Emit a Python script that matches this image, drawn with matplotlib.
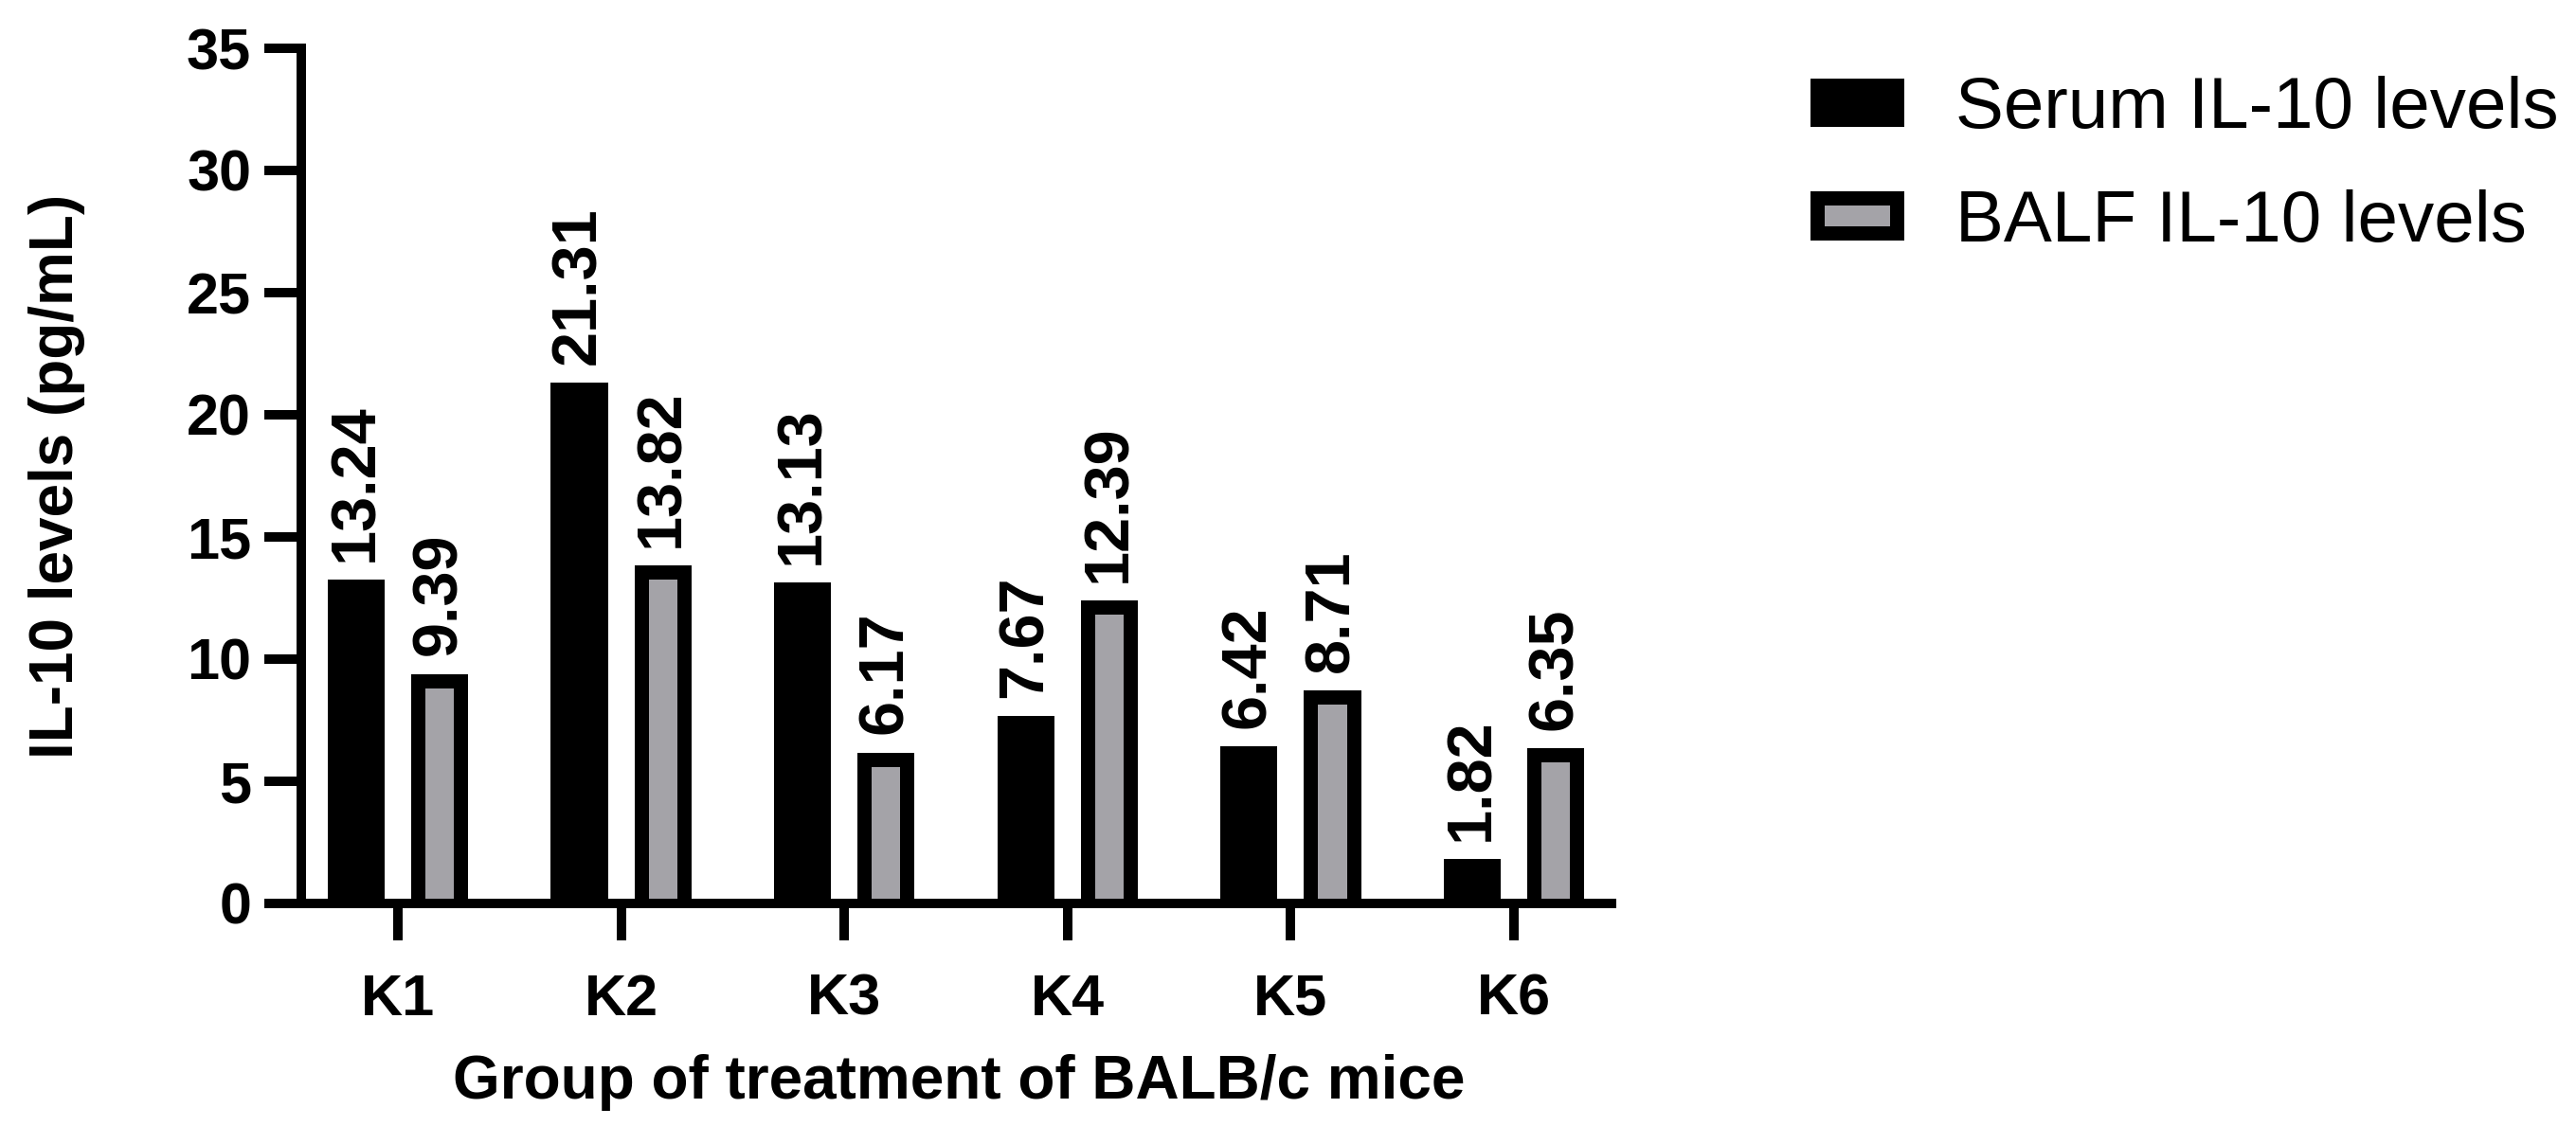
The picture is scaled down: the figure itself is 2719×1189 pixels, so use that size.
import matplotlib
matplotlib.use("Agg")
import matplotlib.pyplot as plt
import numpy as np
from matplotlib.patches import Rectangle, Patch
from matplotlib.legend_handler import HandlerBase

groups = ["K1", "K2", "K3", "K4", "K5", "K6"]
serum = [13.24, 21.31, 13.13, 7.67, 6.42, 1.82]
balf = [9.39, 13.82, 6.17, 12.39, 8.71, 6.35]
serum_labels = ["13.24", "21.31", "13.13", "7.67", "6.42", "1.82"]
balf_labels = ["9.39", "13.82", "6.17", "12.39", "8.71", "6.35"]
yticks = [0, 5, 10, 15, 20, 25, 30, 35]
series_names = ["Serum IL-10 levels", "BALF IL-10 levels"]

W, H, DPI = 2719, 1189, 100
GRAY = "#A4A3A8"
FONT = "Liberation Sans"
plt.rcParams["font.family"] = [FONT, "DejaVu Sans"]

fig = plt.figure(figsize=(W / DPI, H / DPI), dpi=DPI)
ax = fig.add_axes([279 / W, 1 - 954 / H, 1427 / W, 903 / H])

x = np.arange(len(groups))
bw = 0.255
off = 0.187
inset_px = 15
# inset of the grey fill in data units
inset_x = bw * inset_px / 60
inset_y = 35 * inset_px / 903

ax.bar(x - off, serum, bw, color="black", zorder=1)
ax.bar(x + off, balf, bw, color="black", zorder=1)
ax.bar(x + off, np.array(balf) - inset_y, bw - 2 * inset_x, color=GRAY, zorder=1.1)

for xi, v, t in zip(x - off, serum, serum_labels):
    ax.annotate(t, (xi, v), xytext=(0, 14), textcoords="offset points",
                rotation=90, ha="center", va="bottom", fontsize=48,
                fontweight="bold", family=FONT)
for xi, v, t in zip(x + off, balf, balf_labels):
    ax.annotate(t, (xi, v), xytext=(0, 14), textcoords="offset points",
                rotation=90, ha="center", va="bottom", fontsize=48,
                fontweight="bold", family=FONT)

ax.set_xlim(-0.598, 5.458)
ax.set_ylim(0, 35)
lw = 7.2
for s in ["top", "right"]:
    ax.spines[s].set_visible(False)
ax.spines["left"].set_position(("data", -0.433))
ax.spines["left"].set_bounds(0, 35)
for s in ["left", "bottom"]:
    ax.spines[s].set_linewidth(lw)
    ax.spines[s].set_capstyle("projecting")
ax.spines["bottom"].set_capstyle("butt")

ax.set_yticks(yticks)
ax.set_yticklabels([str(t) for t in yticks])
ax.set_xticks(x)
ax.set_xticklabels(groups)
ax.tick_params(axis="both", width=lw, length=28, labelsize=44)
ax.tick_params(axis="y", pad=10)
ax.tick_params(axis="x", pad=25)
for lab in ax.get_xticklabels() + ax.get_yticklabels():
    lab.set_fontweight("bold")

ax.set_ylabel("IL-10 levels (pg/mL)", fontsize=46, fontweight="bold")
ax.yaxis.set_label_coords(-0.1324, 0.5)
ax.set_xlabel("Group of treatment of BALB/c mice", fontsize=46, fontweight="bold")
ax.xaxis.set_label_coords(0.514, -0.176)


class HandlerInset(HandlerBase):
    def create_artists(self, legend, orig_handle, xdescent, ydescent,
                       width, height, fontsize, trans):
        ins = inset_px * 72 / DPI
        outer = Rectangle((-xdescent, -ydescent), width, height,
                          facecolor="black", edgecolor="none", transform=trans)
        inner = Rectangle((-xdescent + ins, -ydescent + ins), width - 2 * ins,
                          height - 2 * ins, facecolor=GRAY, edgecolor="none",
                          transform=trans)
        return [outer, inner]


h1 = Patch(facecolor="black", edgecolor="none")
h2 = Patch(facecolor=GRAY, edgecolor="black")
fig.legend([h1, h2], series_names, loc="upper left",
           bbox_to_anchor=(1911 / W, 1 - 80 / H), frameon=False,
           fontsize=55, handlelength=1.296, handleheight=0.654,
           handletextpad=0.71, labelspacing=0.64, borderpad=0,
           borderaxespad=0, handler_map={h2: HandlerInset()})

fig.savefig("out.png", dpi=DPI)
